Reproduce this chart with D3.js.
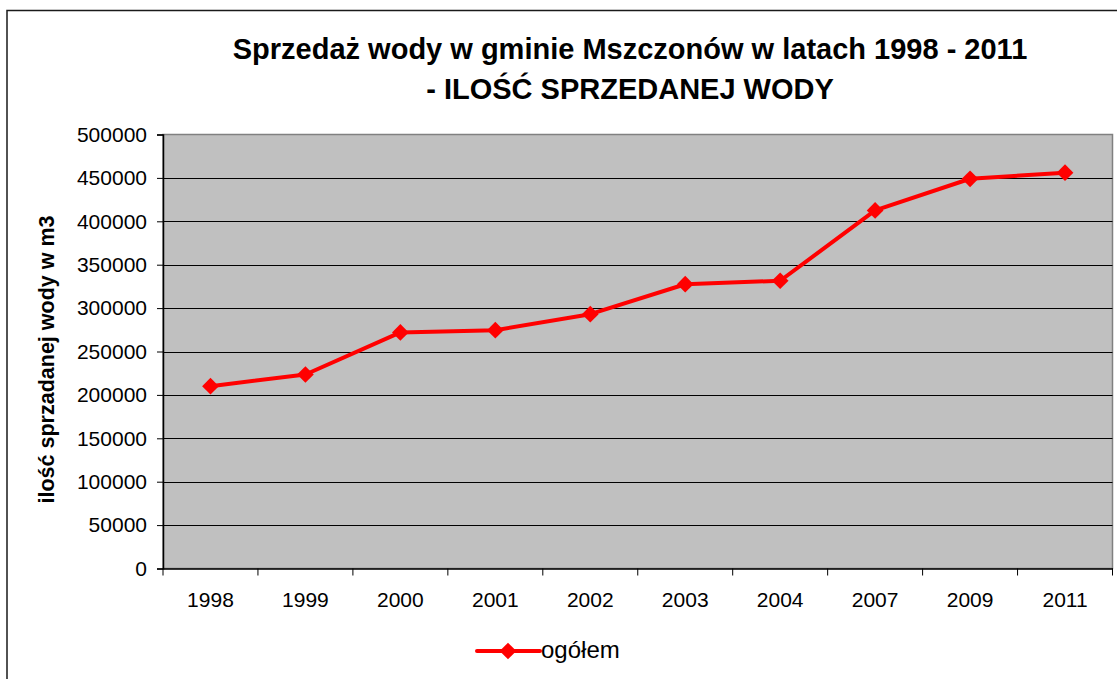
<!DOCTYPE html>
<html>
<head>
<meta charset="utf-8">
<title>Sprzedaż wody w gminie Mszczonów</title>
<style>
  body { margin: 0; background: #fff; }
  svg { display: block; font-family: "Liberation Sans", Arial, sans-serif; }
</style>
</head>
<body>
<div id="chart"></div>
<script src="https://d3js.org/d3.v7.min.js"></script>
<script>
const years = ["1998", "1999", "2000", "2001", "2002", "2003", "2004", "2007", "2009", "2011"];
const sold = [210000, 223500, 272000, 274500, 293000, 327500, 331500, 412500, 449000, 456000];
const yTicks = [0, 50000, 100000, 150000, 200000, 250000, 300000, 350000, 400000, 450000, 500000];
const seriesName = "ogółem";

const width = 1117, height = 679;
const plot = { left: 163, right: 1112.5, top: 134.5, bottom: 568.5 };

const svg = d3.select("#chart").append("svg")
  .attr("width", width).attr("height", height);

// outer chart frame
svg.append("rect")
  .attr("x", 7).attr("y", 10.5)
  .attr("width", 1200).attr("height", 800)
  .attr("fill", "#fff").attr("stroke", "#1a1a1a").attr("stroke-width", 1.5);

const x = d3.scaleBand().domain(years).range([plot.left, plot.right]);
const y = d3.scaleLinear().domain([0, 500000]).range([plot.bottom, plot.top]);

// plot area
svg.append("rect")
  .attr("x", plot.left).attr("y", plot.top)
  .attr("width", plot.right - plot.left).attr("height", plot.bottom - plot.top)
  .attr("fill", "#c0c0c0").attr("stroke", "#808080").attr("stroke-width", 1.5);

// gridlines
svg.append("g").selectAll("line")
  .data(yTicks.filter(d => d > 0 && d < 500000))
  .join("line")
  .attr("x1", plot.left).attr("x2", plot.right)
  .attr("y1", d => Math.round(y(d)) + 0.5).attr("y2", d => Math.round(y(d)) + 0.5)
  .attr("stroke", "#000").attr("stroke-width", 1);

// y axis
const yAxis = svg.append("g")
  .attr("transform", `translate(${plot.left},0)`)
  .call(d3.axisLeft(y).tickValues(yTicks).tickSize(6).tickPadding(10).tickFormat(d3.format("d")));
yAxis.select(".domain").attr("stroke", "#000").attr("stroke-width", 1.5);
yAxis.selectAll(".tick line").attr("stroke", "#000");
yAxis.selectAll("text").attr("font-size", 21).attr("fill", "#000")
  .attr("font-family", "Liberation Sans, Arial, sans-serif");

// x axis
const xAxis = svg.append("g")
  .attr("transform", `translate(0,${plot.bottom})`)
  .call(d3.axisBottom(x).tickSize(0).tickPadding(24));
xAxis.select(".domain").attr("stroke", "#000").attr("stroke-width", 1.5);
xAxis.selectAll("text").attr("font-size", 21).attr("fill", "#000")
  .attr("font-family", "Liberation Sans, Arial, sans-serif");
xAxis.selectAll(".boundary")
  .data(d3.range(years.length + 1))
  .join("line")
  .attr("class", "boundary")
  .attr("x1", i => plot.left + i * x.step()).attr("x2", i => plot.left + i * x.step())
  .attr("y1", 0).attr("y2", 7)
  .attr("stroke", "#000").attr("stroke-width", 1);

// title
const title = svg.append("text")
  .attr("x", 630).attr("text-anchor", "middle")
  .attr("font-size", 29).attr("font-weight", "bold").attr("fill", "#000");
title.append("tspan").attr("x", 630).attr("y", 59).text("Sprzedaż wody w gminie Mszczonów w latach 1998 - 2011");
title.append("tspan").attr("x", 630).attr("y", 99).text("- ILOŚĆ SPRZEDANEJ WODY");

// y label
svg.append("text")
  .attr("transform", `translate(54,${(plot.top + plot.bottom) / 2 + 8}) rotate(-90)`)
  .attr("text-anchor", "middle")
  .attr("font-size", 21.5).attr("font-weight", "bold").attr("fill", "#000")
  .text("ilość sprzadanej wody w m3");

// series
const cx = d => x(d) + x.bandwidth() / 2;
const pts = years.map((yr, i) => [cx(yr), y(sold[i])]);
svg.append("path")
  .attr("d", d3.line()(pts))
  .attr("fill", "none").attr("stroke", "#ff0000").attr("stroke-width", 4)
  .attr("stroke-linejoin", "round");

const diamond = d3.symbol().type(d3.symbolSquare).size(140);
svg.append("g").selectAll("path")
  .data(pts)
  .join("path")
  .attr("transform", d => `translate(${d[0]},${d[1]}) rotate(45)`)
  .attr("d", diamond)
  .attr("fill", "#ff0000");

// legend
const lg = svg.append("g").attr("transform", "translate(0,651)");
lg.append("line").attr("x1", 477).attr("x2", 540).attr("y1", 0).attr("y2", 0)
  .attr("stroke", "#ff0000").attr("stroke-width", 4).attr("stroke-linecap", "round");
lg.append("path").attr("transform", "translate(508,0) rotate(45)").attr("d", diamond).attr("fill", "#ff0000");
lg.append("text").attr("x", 541).attr("y", 7)
  .attr("font-size", 24).attr("fill", "#000").text(seriesName);
</script>
</body>
</html>
